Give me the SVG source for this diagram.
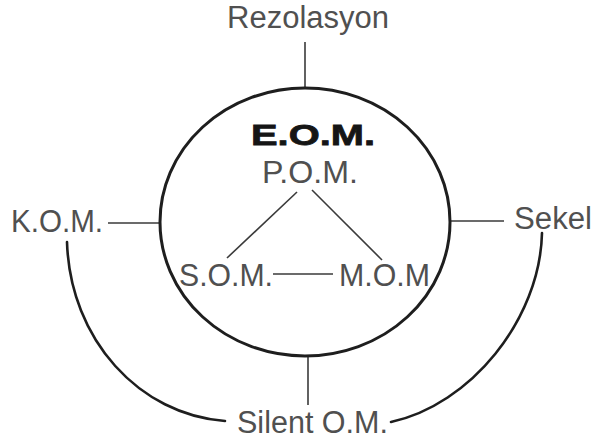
<svg xmlns="http://www.w3.org/2000/svg" width="593" height="443" viewBox="0 0 593 443">
<style>
.t{font-family:"Liberation Sans",Arial,sans-serif;font-size:31px;fill:#505050}
.b{font-family:"Liberation Sans",Arial,sans-serif;font-size:30px;font-weight:bold;fill:#151515;stroke:#151515;stroke-width:0.8}
.ln{stroke:#3a3a3a;stroke-width:1.6;fill:none}
.arc{stroke:#1e1e1e;stroke-width:2.6;fill:none;stroke-linecap:round}
.circ{stroke:#1e1e1e;stroke-width:3;fill:#fff}
</style>
<rect width="593" height="443" fill="#fff"/>
<g id="connectors">
<line class="ln" x1="305" y1="42" x2="305" y2="88"/>
<line class="ln" x1="108" y1="223" x2="160" y2="223"/>
<line class="ln" x1="451" y1="221" x2="504" y2="221"/>
<line class="ln" x1="308" y1="356" x2="308" y2="405"/>
<path class="arc" d="M67,242 C70,340 140,415 225,421"/>
<path class="arc" d="M542,233 C540,320 470,405 391,422"/>
</g>
<g id="eom">
<ellipse class="circ" cx="305" cy="222" rx="145" ry="134"/>
<text class="b" x="251" y="145" textLength="124" lengthAdjust="spacingAndGlyphs">E.O.M.</text>
</g>
<g id="inner-connectors">
<line class="ln" x1="297" y1="192" x2="227" y2="258"/>
<line class="ln" x1="312" y1="190" x2="382" y2="260"/>
<line class="ln" x1="273" y1="274" x2="333" y2="274"/>
</g>
<g id="pom"><text class="t" x="262" y="183" textLength="96" lengthAdjust="spacingAndGlyphs">P.O.M.</text></g>
<g id="som"><text class="t" x="179" y="286" textLength="94" lengthAdjust="spacingAndGlyphs">S.O.M.</text></g>
<g id="mom"><text class="t" x="339" y="286" textLength="91" lengthAdjust="spacingAndGlyphs">M.O.M</text></g>
<g id="rezolasyon"><text class="t" x="227" y="28" textLength="162" lengthAdjust="spacingAndGlyphs">Rezolasyon</text></g>
<g id="kom"><text class="t" x="11" y="232" textLength="92" lengthAdjust="spacingAndGlyphs">K.O.M.</text></g>
<g id="sekel"><text class="t" x="514" y="229" textLength="78" lengthAdjust="spacingAndGlyphs">Sekel</text></g>
<g id="silent"><text class="t" x="237" y="433" textLength="151" lengthAdjust="spacingAndGlyphs">Silent O.M.</text></g>
</svg>
